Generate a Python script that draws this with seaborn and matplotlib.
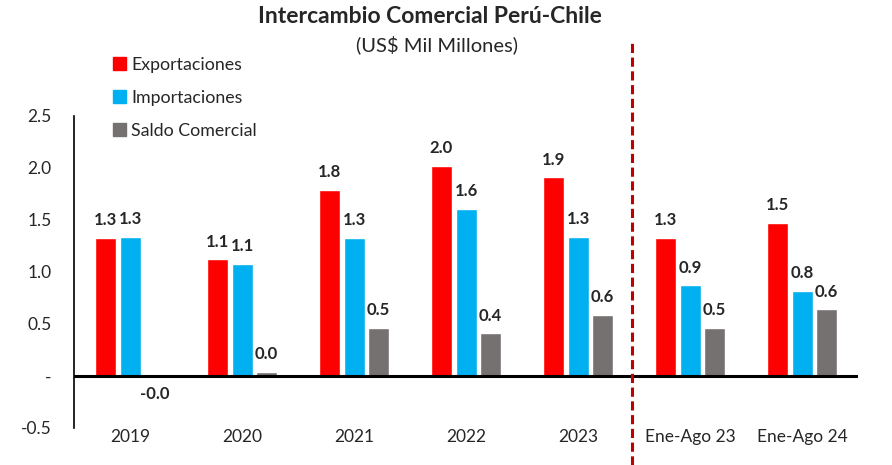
import pandas as pd
import numpy as np
import matplotlib.pyplot as plt
import seaborn as sns
from matplotlib.patches import Patch

periodos = ["2019", "2020", "2021", "2022", "2023", "Ene-Ago 23", "Ene-Ago 24"]
exportaciones = [1.33, 1.12, 1.79, 2.02, 1.91, 1.33, 1.47]
importaciones = [1.34, 1.08, 1.33, 1.61, 1.34, 0.87, 0.82]
saldo = [-0.005, 0.04, 0.46, 0.41, 0.59, 0.46, 0.64]
series = ["Exportaciones", "Importaciones", "Saldo Comercial"]
colores = ["#FF0000", "#00B0F0", "#767171"]
y_ticks = [-0.5, 0, 0.5, 1.0, 1.5, 2.0, 2.5]
divisor = 4.48

df = pd.DataFrame({"Periodo": periodos * 3,
                   "Serie": np.repeat(series, len(periodos)),
                   "Valor": exportaciones + importaciones + saldo})

sns.set_style("white")
plt.rcParams["font.family"] = ["Lato", "DejaVu Sans"]

fig = plt.figure(figsize=(8.92, 4.65), dpi=100)
ax = fig.add_axes([0.083, 0.0796, 0.879, 0.671])

sns.barplot(data=df, x="Periodo", y="Valor", hue="Serie", palette=colores,
            width=0.66, gap=0.15, ax=ax, legend=False, saturation=1)

for c in ax.containers:
    ax.bar_label(c, labels=[f"{v:.1f}" for v in c.datavalues], padding=7,
                 fontsize=12, fontweight="bold")

ax.set_ylim(-0.5, 2.5)
ax.set_xlim(-0.5, len(periodos) - 0.5)
ax.set_yticks(y_ticks)
ax.set_yticklabels(["-" if t == 0 else f"{t:.1f}" for t in y_ticks], fontsize=12.5)
ax.tick_params(axis="y", length=0, pad=16)
ax.tick_params(axis="x", length=0, pad=1, labelsize=12.5)
ax.set_xlabel("")
ax.set_ylabel("")

for s in ["top", "right", "bottom"]:
    ax.spines[s].set_visible(False)
ax.spines["left"].set_color("black")
ax.spines["left"].set_linewidth(1.2)
ax.axhline(0, color="black", lw=2.2)

ax.plot([divisor, divisor], [-0.86, 3.23], color="#C00000", lw=2.2,
        ls=(0, (3, 1.5)), clip_on=False)

fig.text(0.482, 0.965, "Intercambio Comercial Perú-Chile", ha="center",
         va="center", fontsize=16.5, fontweight="bold")
fig.text(0.49, 0.903, "(US$ Mil Millones)", ha="center", va="center", fontsize=14.5)

handles = [Patch(color=c, label=s) for c, s in zip(colores, series)]
fig.legend(handles=handles, loc="upper left", bbox_to_anchor=(0.119, 0.893),
           frameon=False, fontsize=12.8, handlelength=0.7, handleheight=0.7,
           handletextpad=0.3, labelspacing=0.95, borderaxespad=0)

fig.savefig("out.png", dpi=100)
